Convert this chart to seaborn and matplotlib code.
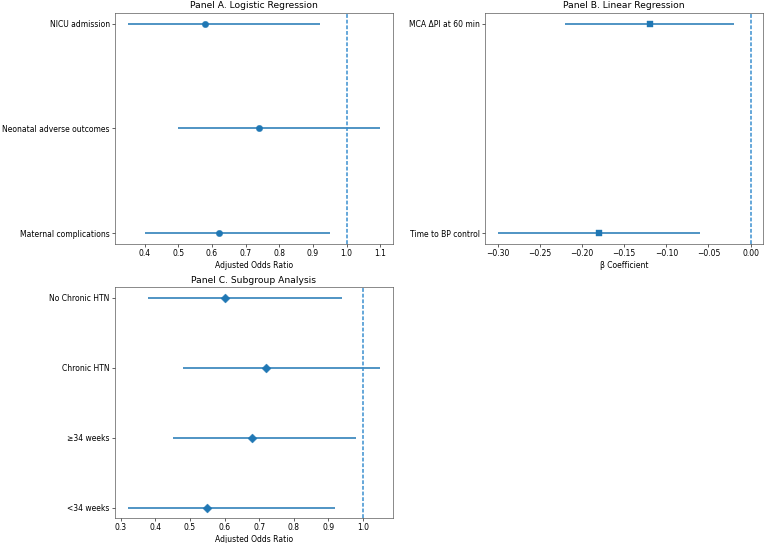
import seaborn as sns
import matplotlib.pyplot as plt
import pandas as pd

# Panel A - logistic regression (bottom to top)
a_labels = ["Maternal complications", "Neonatal adverse outcomes", "NICU admission"]
a_est = [0.62, 0.74, 0.58]
a_lo = [0.40, 0.50, 0.35]
a_hi = [0.95, 1.10, 0.92]

# Panel B - linear regression
b_labels = ["Time to BP control", "MCA \u0394PI at 60 min"]
b_est = [-0.18, -0.12]
b_lo = [-0.30, -0.22]
b_hi = [-0.06, -0.02]

# Panel C - subgroup analysis
c_labels = ["<34 weeks", "\u226534 weeks", "Chronic HTN", "No Chronic HTN"]
c_est = [0.55, 0.68, 0.72, 0.60]
c_lo = [0.32, 0.45, 0.48, 0.38]
c_hi = [0.92, 0.98, 1.05, 0.94]

blue = "#1f77b4"
dpi = 55
plt.rcParams["axes.edgecolor"] = "#444444"
fig, axes = plt.subplots(2, 2, figsize=(767 / dpi, 543 / dpi), dpi=dpi)
plt.subplots_adjust(left=0.15, right=0.995, bottom=0.046, top=0.976, wspace=0.333, hspace=0.187)


def forest(ax, labels, est, lo, hi, marker, ref, title, xlabel):
    df = pd.DataFrame({"y": range(len(labels)), "est": est, "lo": lo, "hi": hi})
    ax.hlines(df["y"], df["lo"], df["hi"], color=blue, lw=2, zorder=2)
    sns.scatterplot(data=df, x="est", y="y", marker=marker, color=blue, s=70,
                    edgecolor=blue, linewidth=0.5, ax=ax, zorder=3)
    ax.axvline(ref, color="#3a8fd0", ls=(0, (2.5, 1.2)), lw=2)
    ax.set_yticks(df["y"])
    ax.set_yticklabels(labels)
    ax.set_title(title)
    ax.set_xlabel(xlabel)
    ax.set_ylabel("")


forest(axes[0, 0], a_labels, a_est, a_lo, a_hi, "o", 1.0,
       "Panel A. Logistic Regression", "Adjusted Odds Ratio")
forest(axes[0, 1], b_labels, b_est, b_lo, b_hi, "s", 0.0,
       "Panel B. Linear Regression", "\u03b2 Coefficient")
forest(axes[1, 0], c_labels, c_est, c_lo, c_hi, "D", 1.0,
       "Panel C. Subgroup Analysis", "Adjusted Odds Ratio")
axes[1, 1].remove()

fig.savefig("out.png", dpi=dpi)
